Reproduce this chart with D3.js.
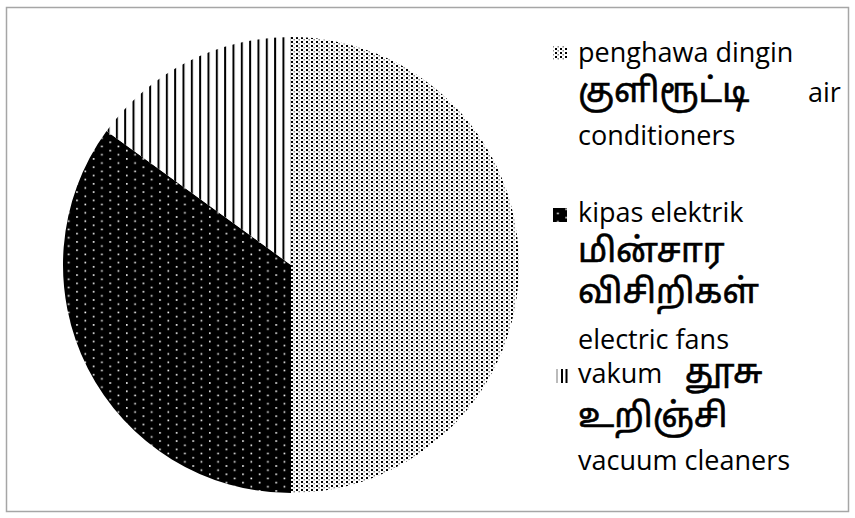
<!DOCTYPE html>
<html><head><meta charset="utf-8">
<script src="https://cdn.jsdelivr.net/npm/d3@7"></script>
<style>
html,body{margin:0;padding:0;background:#fff;}
svg{display:block;}
.lat{font-family:"Open Sans",sans-serif;font-size:27px;fill:#000;}
.tam{font-family:"Noto Sans Tamil","Latha","Noto Sans",sans-serif;font-size:34px;font-weight:normal;fill:#000;stroke:#000;stroke-width:0.6px;}
</style>
</head><body>
<script>
// ---- data ----
const categories = ["penghawa dingin குளிரூட்டி air conditioners","kipas elektrik மின்சார விசிறிகள் electric fans","vakum தூசு உறிஞ்சி vacuum cleaners"];
const values = [50, 35, 15];
const legendLines = [
  [["penghawa dingin","lat"],["குளிரூட்டி","tam","air"],["conditioners","lat"]],
  [["kipas elektrik","lat"],["மின்சார","tam"],["விசிறிகள்","tam"],["electric fans","lat"]],
  [["vakum","lat","தூசு"],["உறிஞ்சி","tam"],["vacuum cleaners","lat"]]
];

const W = 855, H = 518;
const svg = d3.select("body").append("svg").attr("width", W).attr("height", H);
const defs = svg.append("defs");

// light dotted pattern
const p1 = defs.append("pattern").attr("id","pLight").attr("patternUnits","userSpaceOnUse")
  .attr("width",5).attr("height",4);
p1.append("rect").attr("width",5).attr("height",4).attr("fill","#fff");
p1.append("rect").attr("x",0).attr("y",0).attr("width",2).attr("height",2).attr("fill","#000");
p1.append("rect").attr("x",2.5).attr("y",2).attr("width",1.5).attr("height",1.5).attr("fill","#888");

// dark dotted pattern
const p2 = defs.append("pattern").attr("id","pDark").attr("patternUnits","userSpaceOnUse")
  .attr("width",16.6).attr("height",8.3);
p2.append("rect").attr("width",16.6).attr("height",8.3).attr("fill","#000");
p2.append("rect").attr("x",1).attr("y",1).attr("width",1.6).attr("height",1.6).attr("fill","#fff");
p2.append("rect").attr("x",9.3).attr("y",5.15).attr("width",1.6).attr("height",1.6).attr("fill","#fff");

// vertical stripes pattern
const p3 = defs.append("pattern").attr("id","pStripe").attr("patternUnits","userSpaceOnUse")
  .attr("x",283).attr("width",8.33).attr("height",10);
p3.append("rect").attr("width",8.33).attr("height",10).attr("fill","#fff");
p3.append("rect").attr("x",0).attr("y",0).attr("width",2).attr("height",10).attr("fill","#000");

const fills = ["url(#pLight)","url(#pDark)","url(#pStripe)"];

// frame
svg.append("rect").attr("x",6.5).attr("y",7.5).attr("width",842).attr("height",504)
  .attr("fill","none").attr("stroke","#a6a6a6").attr("stroke-width",1.5);

// pie
const cx = 291, cy = 265, R = 228;
const pie = d3.pie().sort(null).value(d => d)(values);
const arc = d3.arc().innerRadius(0).outerRadius(R);
svg.append("g").attr("transform",`translate(${cx},${cy})`)
  .selectAll("path").data(pie).join("path")
  .attr("d", arc).attr("fill",(d,i)=>fills[i]);

// legend
const lx = 578;
const baselines = [[61.7,102,145],[221.7,261.7,303,349],[383,427,470]];
const markerY = [46,208,369];
const lg = svg.append("g");
legendLines.forEach((lines,i)=>{
  if(i===2){
    lg.append("rect").attr("x",553).attr("y",markerY[i]).attr("width",14).attr("height",14).attr("fill","#fff");
    lg.append("rect").attr("x",556).attr("y",markerY[i]).attr("width",2).attr("height",14).attr("fill","#bbb");
    lg.append("rect").attr("x",561).attr("y",markerY[i]).attr("width",2).attr("height",14).attr("fill","#000");
    lg.append("rect").attr("x",565.5).attr("y",markerY[i]).attr("width",2).attr("height",14).attr("fill","#000");
  } else {
    lg.append("rect").attr("x",553).attr("y",markerY[i]).attr("width",14).attr("height",14).attr("fill",fills[i]);
  }
  lines.forEach((ln,j)=>{
    lg.append("text").attr("class",ln[1]).attr("x",lx).attr("y",baselines[i][j]).text(ln[0]);
    if(ln[2]){
      if(ln[1]==="tam"){
        lg.append("text").attr("class","lat").attr("x",808).attr("y",baselines[i][j]).text(ln[2]);
      } else {
        lg.append("text").attr("class","tam").attr("x",685).attr("y",baselines[i][j]).text(ln[2]);
      }
    }
  });
});
</script>
</body></html>
